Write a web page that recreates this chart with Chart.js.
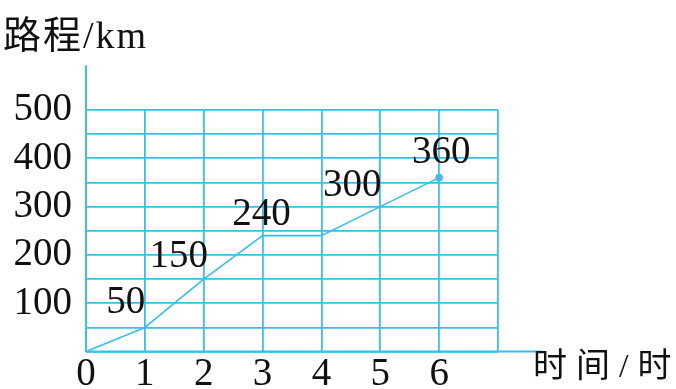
<!DOCTYPE html>
<html>
<head>
<meta charset="utf-8">
<title>路程与时间</title>
<script src="https://cdn.jsdelivr.net/npm/chart.js"></script>
<style>
  html, body { margin: 0; padding: 0; background: #ffffff; }
  #wrap { width: 676px; height: 389px; }
</style>
</head>
<body>
<div id="wrap"><canvas id="chart" width="676" height="389"></canvas></div>
<script>
// data
const hours = [0, 1, 2, 3, 4, 5, 6];
const distances = [0, 50, 150, 240, 240, 300, 360];
const pointLabels = ['', '50', '150', '240', '', '300', '360'];
const yTickValues = [100, 200, 300, 400, 500];
const xTickValues = [0, 1, 2, 3, 4, 5, 6];

// label placement relative to each point (px)
const labelOffsets = [[0, 0], [-19, -25], [-25, -22], [-1, -21], [0, 0], [-28, -21], [2, -25]];

const CYAN = '#38bfea';
const SERIF = '"Liberation Serif", "DejaVu Serif", serif';
const CJK = '"Liberation Serif", "Noto Sans CJK SC", serif';

// extended axes, value labels and axis titles
const decorations = {
  id: 'decorations',
  afterDatasetsDraw(chart) {
    const ctx = chart.ctx;
    const x = chart.scales.x, y = chart.scales.y;
    ctx.save();
    ctx.strokeStyle = CYAN;
    ctx.lineWidth = 2;
    ctx.beginPath();
    ctx.moveTo(x.getPixelForValue(0), y.getPixelForValue(0));
    ctx.lineTo(x.getPixelForValue(7.75), y.getPixelForValue(0));
    ctx.moveTo(x.getPixelForValue(0), y.getPixelForValue(0));
    ctx.lineTo(x.getPixelForValue(0), y.getPixelForValue(592));
    ctx.stroke();

    ctx.fillStyle = '#111111';
    ctx.font = '39px ' + SERIF;
    ctx.textAlign = 'center';
    ctx.textBaseline = 'middle';
    const meta = chart.getDatasetMeta(0);
    meta.data.forEach((pt, i) => {
      if (!pointLabels[i]) return;
      ctx.fillText(pointLabels[i], pt.x + labelOffsets[i][0], pt.y + labelOffsets[i][1]);
    });

    ctx.textAlign = 'left';
    ctx.font = '38px ' + CJK;
    ctx.letterSpacing = '2px';
    ctx.fillText('路程/km', 3, 38);
    ctx.font = '34px ' + CJK;
    ctx.letterSpacing = '9px';
    ctx.fillText('时间/时', 533, 368);
    ctx.restore();
  }
};

new Chart(document.getElementById('chart'), {
  type: 'line',
  data: {
    datasets: [{
      data: hours.map((h, i) => ({ x: h, y: distances[i] })),
      borderColor: CYAN,
      backgroundColor: CYAN,
      borderWidth: 1.6,
      tension: 0,
      fill: false,
      clip: false,
      pointRadius: ctx => (ctx.dataIndex === hours.length - 1 ? 3 : 0),
      pointHoverRadius: 0
    }]
  },
  options: {
    responsive: false,
    animation: false,
    layout: { padding: { top: 110, right: 178, left: 0, bottom: 0 } },
    plugins: {
      legend: { display: false },
      tooltip: { enabled: false },
      title: { display: false }
    },
    scales: {
      x: {
        type: 'linear',
        min: 0,
        max: 7,
        afterFit(scale) { scale.height = 37; },
        border: { display: false },
        grid: { color: CYAN, lineWidth: 1.8, drawTicks: false },
        ticks: {
          stepSize: 1,
          autoSkip: false,
          padding: 0,
          maxRotation: 0,
          color: '#111111',
          font: { family: SERIF, size: 39 },
          callback: v => (xTickValues.includes(v) ? String(v) : '')
        }
      },
      y: {
        min: 0,
        max: 500,
        afterFit(scale) { scale.width = 86; },
        border: { display: false },
        grid: { color: CYAN, lineWidth: 1.8, drawTicks: false },
        ticks: {
          stepSize: 50,
          autoSkip: false,
          padding: 14,
          color: '#111111',
          font: { family: SERIF, size: 39 },
          callback: v => (yTickValues.includes(v) ? String(v) : '')
        }
      }
    }
  },
  plugins: [decorations]
});
</script>
</body>
</html>
